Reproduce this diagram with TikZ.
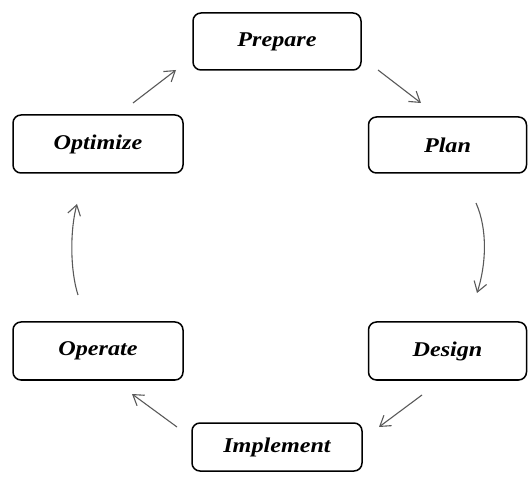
\documentclass[tikz,border=0pt]{standalone}
\usepackage{fontspec}
\setmainfont{Liberation Serif}[FakeStretch=1.15]
\usetikzlibrary{arrows.meta}
\begin{document}
\begin{tikzpicture}[x=1pt,y=-1pt,
  stage/.style={draw=black, line width=1.5pt, rounded corners=8pt, fill=white,
    inner sep=0pt, font=\fontsize{21}{24}\selectfont\bfseries\itshape},
  flow/.style={draw=black!65, line width=1.1pt,
    -{Straight Barb[length=10pt,width=13pt,line width=1.1pt]}}]
\useasboundingbox (0,0) rectangle (528,481);
\node[stage, minimum width=168pt, minimum height=57pt] (prep) at (277,41.5) {Prepare};
\node[stage, minimum width=158pt, minimum height=56pt] (plan) at (447.5,145) {Plan};
\node[stage, minimum width=158pt, minimum height=58pt] (des) at (447.5,351) {Design};
\node[stage, minimum width=170pt, minimum height=48pt] (impl) at (277,447) {Implement};
\node[stage, minimum width=170pt, minimum height=58pt] (oper) at (98,351) {Operate};
\node[stage, minimum width=170pt, minimum height=58pt] (opt) at (98,144) {Optimize};
\coordinate (a1) at (378,70);  \coordinate (b1) at (421,103);
\coordinate (a2) at (476,203); \coordinate (b2) at (477,293);
\coordinate (a3) at (422,395); \coordinate (b3) at (379,427);
\coordinate (a4) at (177,427); \coordinate (b4) at (132,394);
\coordinate (a5) at (78,295);  \coordinate (b5) at (77,204);
\coordinate (a6) at (133,103); \coordinate (b6) at (176,70);
\draw[flow] (a1) -- (b1);
\draw[flow] (a2) .. controls (488,230) and (486,265) .. (b2);
\draw[flow] (a3) -- (b3);
\draw[flow] (a4) -- (b4);
\draw[flow] (a5) .. controls (70,270) and (70,230) .. (b5);
\draw[flow] (a6) -- (b6);
\end{tikzpicture}
\end{document}
